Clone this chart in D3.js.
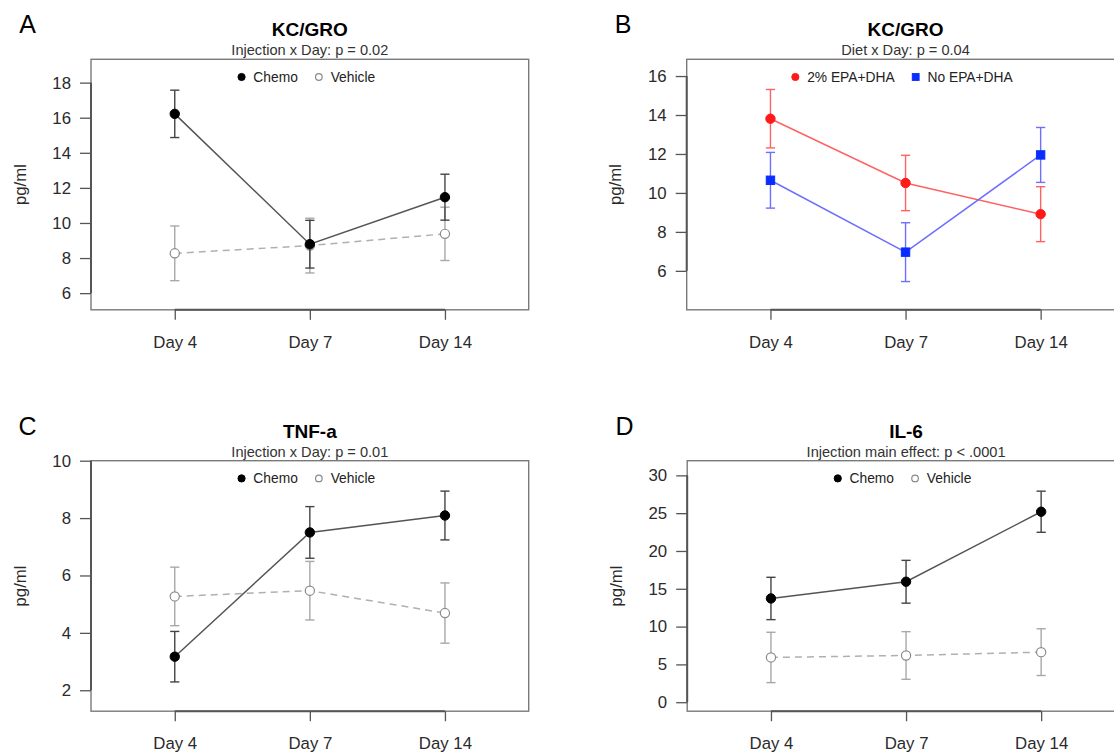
<!DOCTYPE html>
<html><head><meta charset="utf-8">
<script src="https://cdn.jsdelivr.net/npm/d3@7/dist/d3.min.js"></script>
<style>
body{margin:0;background:#fff}
svg{display:block;background:#fff}
text{font-family:"Liberation Sans",Arial,Helvetica,sans-serif}
</style>
</head><body>
<svg id="chart" width="1114" height="753"></svg>
<script>
// ---------- data ----------
const days = ["Day 4", "Day 7", "Day 14"];

const aChemoMean = [16.22, 8.79, 11.47];
const aChemoSE   = [1.35, 1.36, 1.31];
const aVehMean   = [8.27, 8.71, 9.38];
const aVehSE     = [1.56, 1.56, 1.52];

const bEpaMean   = [13.81, 10.51, 8.91];
const bEpaSE     = [1.50, 1.42, 1.41];
const bNoMean    = [10.65, 6.96, 11.95];
const bNoSE      = [1.43, 1.51, 1.41];

const cChemoMean = [3.17, 7.50, 8.09];
const cChemoSE   = [0.88, 0.90, 0.85];
const cVehMean   = [5.27, 5.47, 4.69];
const cVehSE     = [1.02, 1.02, 1.05];

const dChemoMean = [13.72, 15.93, 25.19];
const dChemoSE   = [2.80, 2.83, 2.72];
const dVehMean   = [5.92, 6.18, 6.62];
const dVehSE     = [3.33, 3.15, 3.09];

const aTicks = [6, 8, 10, 12, 14, 16, 18];
const bTicks = [6, 8, 10, 12, 14, 16];
const cTicks = [2, 4, 6, 8, 10];
const dTicks = [0, 5, 10, 15, 20, 25, 30];

const injLegend  = ["Chemo", "Vehicle"];
const dietLegend = ["2% EPA+DHA", "No EPA+DHA"];

// ---------- styles ----------
const styles = {
  chemo:   {line:"#555", dash:null, err:"#444", shape:"circle", fill:"#000", stroke:"#000", sw:1, r:4.7, lr:3.6},
  vehicle: {line:"#b0b0b0", dash:"7,5", err:"#a8a8a8", shape:"circle", fill:"#fff", stroke:"#8a8a8a", sw:1.2, r:4.6, lr:3.3},
  epa:     {line:"#ff6262", dash:null, err:"#ff6262", shape:"circle", fill:"#ff1a1a", stroke:"#ff1a1a", sw:1, r:4.7, lr:3.6},
  noepa:   {line:"#6e6eff", dash:null, err:"#6e6eff", shape:"square", fill:"#0a2cff", stroke:"#0a2cff", sw:1, r:4.2, lr:3.4}
};

const W = 437.7, H = 250.5;
const panels = [
  {label:"A", lx:27.7, ly:33, x:91, y:59.3, title:"KC/GRO", sub:"Injection x Day: p = 0.02",
   domain:[5.05, 19.33], ticks:aTicks, legend:injLegend, legTypes:["chemo","vehicle"],
   series:[{t:"vehicle", m:aVehMean, s:aVehSE}, {t:"chemo", m:aChemoMean, s:aChemoSE}]},
  {label:"B", lx:623, ly:33, x:686.7, y:59.3, title:"KC/GRO", sub:"Diet x Day: p = 0.04",
   domain:[4.0, 16.86], ticks:bTicks, legend:dietLegend, legTypes:["epa","noepa"],
   series:[{t:"epa", m:bEpaMean, s:bEpaSE}, {t:"noepa", m:bNoMean, s:bNoSE}]},
  {label:"C", lx:27.5, ly:435, x:91, y:460.7, title:"TNF-a", sub:"Injection x Day: p = 0.01",
   domain:[1.27, 10.0], ticks:cTicks, legend:injLegend, legTypes:["chemo","vehicle"],
   series:[{t:"vehicle", m:cVehMean, s:cVehSE}, {t:"chemo", m:cChemoMean, s:cChemoSE}]},
  {label:"D", lx:624.5, ly:435, x:687.2, y:460.7, title:"IL-6", sub:"Injection main effect: p < .0001",
   domain:[-1.19, 31.94], ticks:dTicks, legend:injLegend, legTypes:["chemo","vehicle"],
   series:[{t:"vehicle", m:dVehMean, s:dVehSE}, {t:"chemo", m:dChemoMean, s:dChemoSE}]}
];

const svg = d3.select("#chart");
svg.append("rect").attr("width",1114).attr("height",753).attr("fill","#fff");

function drawSymbol(g, type, cx, cy, big) {
  const st = styles[type];
  const r = big ? st.r : st.lr;
  if (st.shape === "square") {
    g.append("rect").attr("x", cx - r).attr("y", cy - r).attr("width", 2*r).attr("height", 2*r)
      .attr("fill", st.fill).attr("stroke", st.stroke).attr("stroke-width", st.sw);
  } else {
    g.append("circle").attr("cx", cx).attr("cy", cy).attr("r", r)
      .attr("fill", st.fill).attr("stroke", st.stroke).attr("stroke-width", st.sw);
  }
}

panels.forEach(p => {
  // panel letter
  svg.append("text").attr("x", p.lx).attr("y", p.ly).attr("text-anchor","middle")
    .attr("font-size", 25).attr("font-family","Lato,'Open Sans',sans-serif").attr("fill","#000").text(p.label);

  const g = svg.append("g").attr("transform", `translate(${p.x},${p.y})`);
  const x = d3.scalePoint().domain(days).range([0, W]).padding(0.62);
  const y = d3.scaleLinear().domain(p.domain).range([H, 0]);

  // box
  g.append("rect").attr("x",0).attr("y",0).attr("width",W).attr("height",H)
    .attr("fill","none").attr("stroke","#7a7a7a").attr("stroke-width",1.4);

  // titles
  const cxm = W/2;
  g.append("text").attr("x", cxm).attr("y", 36.1 - 59.3).attr("text-anchor","middle")
    .attr("font-size", 19).attr("font-weight","bold").attr("fill","#000").text(p.title);
  g.append("text").attr("x", cxm).attr("y", 55.2 - 59.3).attr("text-anchor","middle")
    .attr("font-size", 14.6).attr("fill","#333").text(p.sub);

  // y axis
  const ya = g.append("g").call(d3.axisLeft(y).tickValues(p.ticks).tickSize(11).tickPadding(9).tickFormat(d3.format("d")));
  ya.select(".domain").remove();
  ya.selectAll(".tick line").attr("stroke","#555").attr("stroke-width",1.3);
  ya.selectAll(".tick text").attr("font-size",16.8).attr("fill","#2a2a2a")
    .attr("font-family","'Liberation Sans',Arial,sans-serif");
  const yt = d3.extent(p.ticks);
  g.append("line").attr("x1",0).attr("x2",0).attr("y1",y(yt[0])).attr("y2",y(yt[1]))
    .attr("stroke","#555").attr("stroke-width",2);

  // x axis
  const xa = g.append("g").attr("transform",`translate(0,${H})`)
    .call(d3.axisBottom(x).tickSize(10).tickPadding(16));
  xa.select(".domain").remove();
  xa.selectAll(".tick line").attr("stroke","#555").attr("stroke-width",1.3);
  xa.selectAll(".tick text").attr("font-size",16.8).attr("fill","#2a2a2a")
    .attr("font-family","'Liberation Sans',Arial,sans-serif");
  g.append("line").attr("x1",x(days[0])).attr("x2",x(days[days.length-1])).attr("y1",H).attr("y2",H)
    .attr("stroke","#555").attr("stroke-width",2);

  // y label
  g.append("text").attr("transform",`translate(${19.8 - 91},${H/2}) rotate(-90)`)
    .attr("text-anchor","middle").attr("dy","0.35em").attr("font-size",16.8).attr("fill","#2a2a2a").text("pg/ml");

  // series
  p.series.forEach(s => {
    const st = styles[s.t];
    const pts = days.map((d,i) => ({d, m:s.m[i], se:s.s[i]}));
    // error bars
    const eg = g.append("g").attr("stroke", st.err).attr("stroke-width", 1.4).attr("fill","none");
    pts.forEach(q => {
      const xx = x(q.d), y1 = y(q.m + q.se), y0 = y(q.m - q.se);
      eg.append("line").attr("x1",xx).attr("x2",xx).attr("y1",y1).attr("y2",y0);
      eg.append("line").attr("x1",xx-4.6).attr("x2",xx+4.6).attr("y1",y1).attr("y2",y1);
      eg.append("line").attr("x1",xx-4.6).attr("x2",xx+4.6).attr("y1",y0).attr("y2",y0);
    });
    // line
    g.append("path").datum(pts)
      .attr("d", d3.line().x(q => x(q.d)).y(q => y(q.m)))
      .attr("fill","none").attr("stroke", st.line).attr("stroke-width", 1.5)
      .attr("stroke-dasharray", st.dash);
    // points
    pts.forEach(q => drawSymbol(g, s.t, x(q.d), y(q.m), true));
  });

  // legend
  const lg = g.append("g");
  const ly = 77 - 59.3;
  const fs = 13.8;
  const tmp = lg.append("text").attr("font-size", fs);
  const widths = p.legend.map(t => { tmp.text(t); return tmp.node().getComputedTextLength(); });
  tmp.remove();
  const symGap = 11.8, itemGap = 21;
  const span = symGap + widths[0] + itemGap + symGap + widths[1];
  let cx0 = cxm - span/2 - 1.5;
  p.legend.forEach((t, i) => {
    drawSymbol(lg, p.legTypes[i], cx0, ly, false);
    lg.append("text").attr("x", cx0 + symGap).attr("y", ly).attr("dy","0.35em")
      .attr("font-size", fs).attr("fill","#222").text(t);
    cx0 += symGap + widths[i] + itemGap;
  });
});
</script>
</body></html>
